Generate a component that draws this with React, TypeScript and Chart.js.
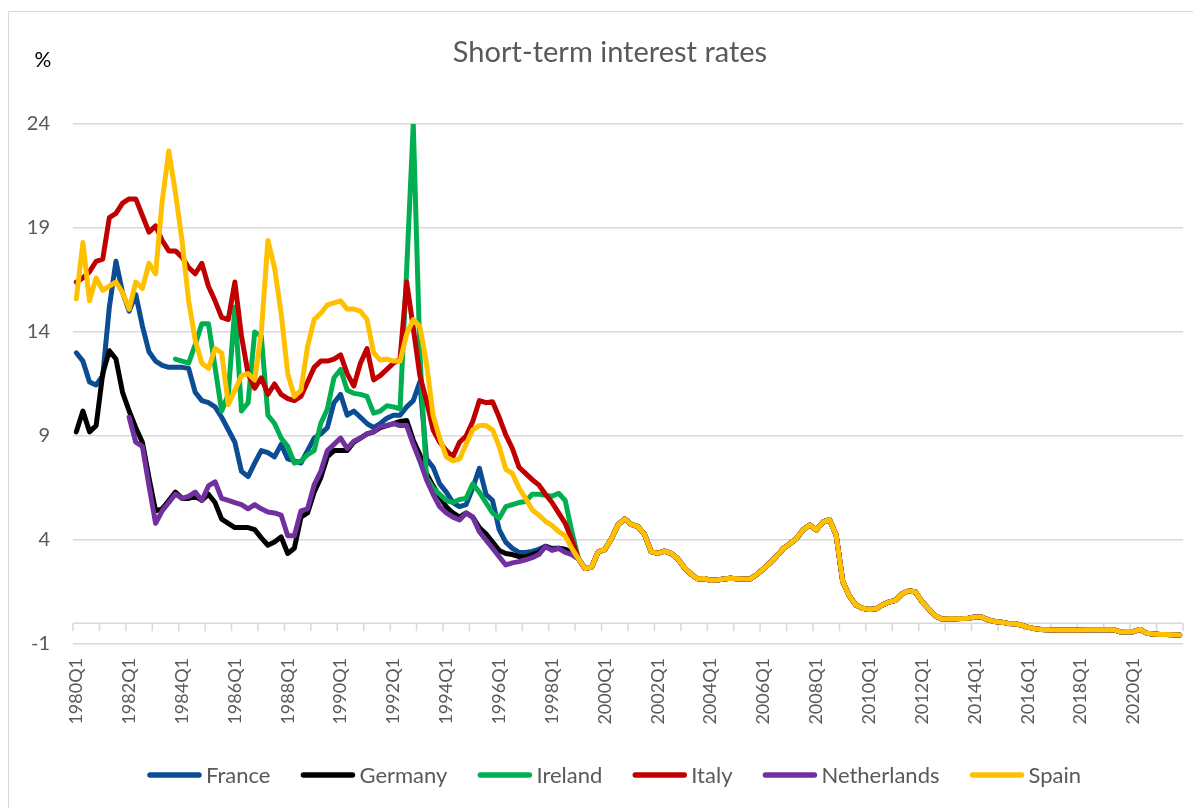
import React, { useEffect, useRef } from "react";
import { Chart, registerables } from "chart.js";

Chart.register(...registerables);

const W = 1193;
const H = 800;
const FONT = "Lato, 'Open Sans', sans-serif";

const firstYear = 1980;
const lastYear = 2021;
const quarters: string[] = [];
for (let y = firstYear; y <= lastYear; y++) {
  for (let q = 1; q <= 4; q++) quarters.push(`${y}Q${q}`);
}

const yTicks = [-1, 4, 9, 14, 19, 24];

// 1980Q1 - 1998Q4 (76 quarters)
const francePre = [
  13.0, 12.6, 11.6, 11.45, 11.9, 15.2, 17.4, 15.9, 15.0, 15.8, 14.3, 13.05,
  12.6, 12.4, 12.3, 12.3, 12.3, 12.25, 11.1, 10.7, 10.6, 10.4, 9.9, 9.3,
  8.7, 7.3, 7.05, 7.7, 8.3, 8.2, 8.0, 8.6, 7.9, 7.8, 7.7, 8.3,
  8.9, 9.1, 9.4, 10.6, 11.0, 10.0, 10.2, 9.9, 9.6, 9.4, 9.6, 9.85,
  10.0, 10.0, 10.4, 10.7, 11.6, 7.9, 7.5, 6.7, 6.3, 5.8, 5.6, 5.7,
  6.5, 7.45, 6.2, 5.9, 4.5, 3.9, 3.6, 3.4, 3.4, 3.45, 3.55, 3.7,
  3.6, 3.6, 3.55, 3.4,
];

const germanyPre = [
  9.2, 10.2, 9.2, 9.5, 12.0, 13.1, 12.7, 11.1, 10.2, 9.4, 8.7, 7.0,
  5.4, 5.5, 5.9, 6.3, 6.0, 6.0, 6.1, 5.9, 6.2, 5.8, 5.0, 4.8,
  4.6, 4.6, 4.6, 4.5, 4.1, 3.75, 3.9, 4.15, 3.35, 3.6, 5.1, 5.3,
  6.3, 7.0, 8.0, 8.3, 8.3, 8.3, 8.7, 8.9, 9.1, 9.2, 9.4, 9.5,
  9.6, 9.7, 9.75, 8.8, 8.1, 7.2, 6.6, 6.1, 5.6, 5.3, 5.1, 5.3,
  5.1, 4.6, 4.3, 3.9, 3.5, 3.35, 3.3, 3.2, 3.2, 3.3, 3.4, 3.7,
  3.55, 3.6, 3.55, 3.35,
];

const irelandPre = [
  null, null, null, null, null, null, null, null, null, null, null, null,
  null, null, null, 12.7, 12.6, 12.5, 13.4, 14.4, 14.4, 12.3, 10.2, 11.0,
  15.2, 10.2, 10.6, 14.0, 13.8, 10.0, 9.6, 8.9, 8.5, 7.7, 7.8, 8.1,
  8.3, 9.6, 10.3, 11.8, 12.2, 11.2, 11.05, 11.0, 10.9, 10.1, 10.2, 10.45,
  10.4, 10.3, 17.0, 24.0, 13.0, 7.0, 6.5, 6.2, 5.9, 5.8, 5.95, 6.0,
  6.7, 6.3, 5.8, 5.3, 5.05, 5.6, 5.7, 5.8, 5.85, 6.2, 6.2, 6.15,
  6.1, 6.25, 5.9, 4.4,
];

const italyPre = [
  16.4, 16.6, 16.9, 17.4, 17.5, 19.5, 19.7, 20.2, 20.4, 20.4, 19.6, 18.8,
  19.1, 18.4, 17.9, 17.9, 17.6, 17.1, 16.8, 17.3, 16.2, 15.5, 14.7, 14.6,
  16.4, 13.8, 12.0, 11.3, 11.8, 11.0, 11.5, 11.0, 10.8, 10.7, 10.9, 11.6,
  12.3, 12.6, 12.6, 12.7, 12.9, 12.0, 11.4, 12.5, 13.2, 11.7, 11.9, 12.2,
  12.5, 12.7, 16.4, 14.2, 11.9, 10.7, 9.3, 8.7, 8.3, 8.0, 8.7, 9.0,
  9.7, 10.7, 10.6, 10.65, 9.9, 9.05, 8.4, 7.5, 7.2, 6.9, 6.65, 6.2,
  5.8, 5.3, 4.8, 4.0,
];

const netherlandsPre = [
  null, null, null, null, null, null, null, null, 9.9, 8.7, 8.5, 6.6,
  4.8, 5.4, 5.8, 6.2, 6.0, 6.1, 6.3, 5.9, 6.6, 6.8, 6.0, 5.9,
  5.8, 5.7, 5.5, 5.7, 5.5, 5.35, 5.3, 5.2, 4.2, 4.2, 5.4, 5.5,
  6.65, 7.3, 8.3, 8.6, 8.9, 8.4, 8.75, 8.9, 9.1, 9.2, 9.45, 9.5,
  9.6, 9.5, 9.5, 8.6, 7.8, 6.9, 6.2, 5.6, 5.3, 5.1, 4.96, 5.3,
  5.1, 4.4, 4.0, 3.6, 3.2, 2.8, 2.9, 2.96, 3.05, 3.15, 3.3, 3.68,
  3.5, 3.6, 3.4, 3.3,
];

const spainPre = [
  15.6, 18.3, 15.5, 16.6, 16.0, 16.2, 16.4, 15.9, 15.1, 16.4, 16.1, 17.3,
  16.8, 20.3, 22.7, 20.7, 18.4, 15.5, 13.6, 12.5, 12.25, 13.2, 13.0, 10.5,
  11.2, 11.9, 12.0, 11.7, 14.0, 18.4, 17.1, 14.9, 12.0, 10.9, 11.2, 13.3,
  14.6, 14.9, 15.3, 15.4, 15.5, 15.1, 15.1, 15.0, 14.6, 13.0, 12.65, 12.7,
  12.6, 12.6, 13.9, 14.6, 14.25, 12.5, 10.0, 8.9, 8.0, 7.8, 7.9, 8.6,
  9.3, 9.5, 9.5, 9.3, 8.5, 7.4, 7.2, 6.5, 6.0, 5.45, 5.2, 4.9,
  4.7, 4.4, 4.2, 3.6,
];

// 1999Q1 - 2021Q4 (92 quarters), common euro area rate
const euroArea = [
  3.09, 2.63, 2.7, 3.43, 3.54, 4.07, 4.74, 5.02, 4.75, 4.64, 4.27, 3.44,
  3.36, 3.46, 3.36, 3.11, 2.68, 2.37, 2.14, 2.15, 2.06, 2.08, 2.12, 2.16,
  2.14, 2.12, 2.13, 2.34, 2.61, 2.9, 3.22, 3.59, 3.82, 4.07, 4.49, 4.72,
  4.48, 4.86, 4.98, 4.24, 2.01, 1.31, 0.87, 0.72, 0.66, 0.69, 0.87, 1.02,
  1.1, 1.42, 1.56, 1.5, 1.04, 0.69, 0.36, 0.2, 0.21, 0.21, 0.22, 0.24,
  0.3, 0.3, 0.16, 0.08, 0.05, -0.01, -0.03, -0.09, -0.19, -0.26, -0.3, -0.31,
  -0.33, -0.33, -0.33, -0.33, -0.33, -0.32, -0.32, -0.32, -0.31, -0.31, -0.42, -0.4,
  -0.41, -0.3, -0.48, -0.52, -0.54, -0.54, -0.55, -0.57,
];

const seriesNames = ["France", "Germany", "Ireland", "Italy", "Netherlands", "Spain"];
const seriesColors = ["#0B4C94", "#000000", "#00B050", "#C00000", "#7030A0", "#FFC000"];
const seriesPre = [francePre, germanyPre, irelandPre, italyPre, netherlandsPre, spainPre];

const chartTitle = "Short-term interest rates";
const unitLabel = "%";

const decor = {
  id: "decor",
  beforeDatasetsDraw(chart: any) {
    const { ctx, chartArea, scales } = chart;
    const x = scales.x;
    const y = scales.y;
    const y0 = y.getPixelForValue(0);
    const n = quarters.length;
    const step = x.getPixelForValue(1) - x.getPixelForValue(0);
    ctx.save();
    ctx.strokeStyle = "#D9D9D9";
    ctx.lineWidth = 1.5;
    ctx.beginPath();
    ctx.moveTo(chartArea.left, y0);
    ctx.lineTo(chartArea.right, y0);
    for (let i = 0; i <= n; i += 4) {
      const px = x.getPixelForValue(i) - step / 2;
      ctx.moveTo(px, y0);
      ctx.lineTo(px, y0 + 8);
    }
    ctx.stroke();
    ctx.restore();
  },
  afterDraw(chart: any) {
    const { ctx } = chart;
    ctx.save();
    // outer border
    ctx.strokeStyle = "#D9D9D9";
    ctx.lineWidth = 1;
    ctx.strokeRect(0.5, 3.5, W - 1, H - 3);
    // title
    ctx.fillStyle = "#595959";
    ctx.font = `29px ${FONT}`;
    ctx.textAlign = "center";
    ctx.textBaseline = "middle";
    ctx.fillText(chartTitle, 602, 45);
    // unit
    ctx.fillStyle = "#000000";
    ctx.font = `21px ${FONT}`;
    ctx.fillText(unitLabel, 35, 52);
    // legend
    ctx.font = `22px ${FONT}`;
    ctx.textAlign = "left";
    const lineLen = 55;
    const gapText = 4;
    const gapItem = 30;
    const ds = chart.data.datasets;
    let total = 0;
    ds.forEach((d: any, i: number) => {
      total += lineLen + gapText + ctx.measureText(d.label).width;
      if (i < ds.length - 1) total += gapItem;
    });
    let cx = 606 - total / 2;
    const ly = 767;
    ds.forEach((d: any) => {
      ctx.strokeStyle = d.borderColor;
      ctx.lineWidth = 5.5;
      ctx.lineCap = "round";
      ctx.beginPath();
      ctx.moveTo(cx + 3, ly);
      ctx.lineTo(cx + lineLen - 3, ly);
      ctx.stroke();
      cx += lineLen + gapText;
      ctx.fillStyle = "#595959";
      ctx.fillText(d.label, cx, ly + 1);
      cx += ctx.measureText(d.label).width + gapItem;
    });
    ctx.restore();
  },
};

export default function App() {
  const canvasRef = useRef<HTMLCanvasElement | null>(null);

  useEffect(() => {
    if (!canvasRef.current) return;
    const datasets = seriesNames.map((name, i) => ({
      label: name,
      data: [...seriesPre[i], ...euroArea],
      borderColor: seriesColors[i],
      backgroundColor: seriesColors[i],
      borderWidth: 5,
      pointRadius: 0,
      pointHoverRadius: 0,
      tension: 0,
      borderJoinStyle: "round" as const,
      borderCapStyle: "round" as const,
      fill: false,
      spanGaps: false,
      order: seriesNames.length - i,
    }));

    const chart = new Chart(canvasRef.current, {
      type: "line",
      data: { labels: quarters, datasets },
      options: {
        animation: false,
        responsive: false,
        devicePixelRatio: 1,
        layout: { padding: { top: 116, right: 18, left: 0, bottom: 0 } },
        plugins: {
          legend: { display: false },
          title: { display: false },
          tooltip: { enabled: false },
        },
        scales: {
          x: {
            type: "category",
            offset: true,
            grid: { display: false, drawTicks: false },
            border: { display: false },
            afterFit(scale: any) {
              scale.height = H - 636;
            },
            ticks: {
              autoSkip: false,
              maxRotation: 90,
              minRotation: 90,
              padding: 14,
              color: "#595959",
              font: { family: FONT, size: 18 },
              callback(this: any, value: any, index: number) {
                return index % 8 === 0 ? quarters[index] : null;
              },
            },
          },
          y: {
            min: -1,
            max: 24,
            afterFit(scale: any) {
              scale.width = 65;
            },
            afterBuildTicks(scale: any) {
              scale.ticks = yTicks.map((v) => ({ value: v }));
            },
            grid: { color: "#D9D9D9", lineWidth: 1.5, drawTicks: false },
            border: { display: false },
            ticks: {
              padding: 23,
              color: "#595959",
              font: { family: FONT, size: 20 },
            },
          },
        },
      },
      plugins: [decor],
    });
    return () => chart.destroy();
  }, []);

  return (
    <div style={{ width: W, height: H }}>
      <canvas ref={canvasRef} width={W} height={H} style={{ display: "block" }} />
    </div>
  );
}
